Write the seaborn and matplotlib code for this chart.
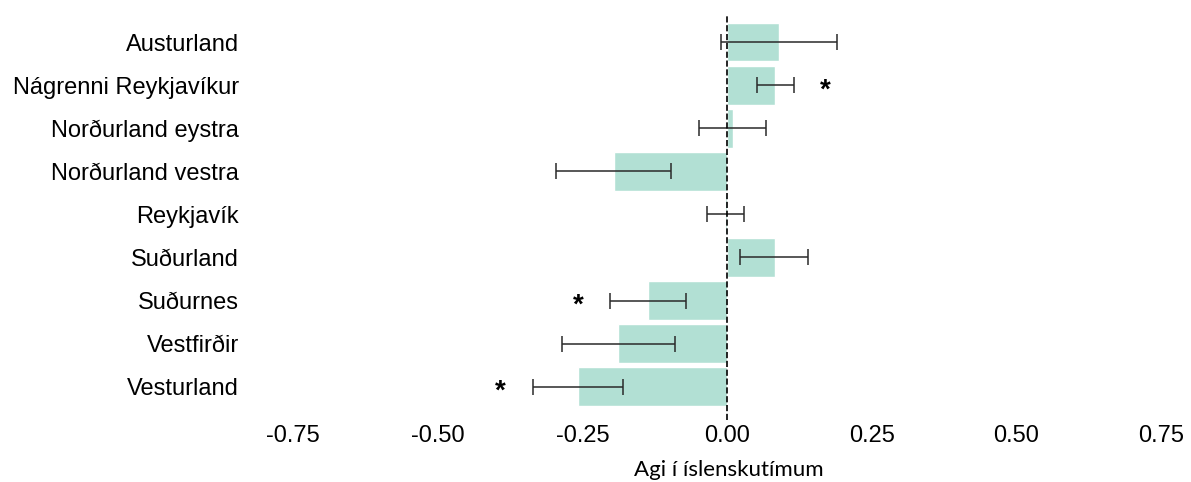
import matplotlib
matplotlib.use("Agg")
import matplotlib.pyplot as plt
import pandas as pd
import seaborn as sns

# ── data ─────────────────────────────────────────────
regions = ["Austurland", "Nágrenni Reykjavíkur", "Norðurland eystra",
           "Norðurland vestra", "Reykjavík", "Suðurland", "Suðurnes",
           "Vestfirðir", "Vesturland"]
effect = [0.090, 0.083, 0.010, -0.196, -0.003, 0.082, -0.137, -0.188, -0.257]
ci_low = [-0.011, 0.051, -0.048, -0.295, -0.035, 0.022, -0.202, -0.285, -0.336]
ci_high = [0.190, 0.115, 0.068, -0.097, 0.029, 0.140, -0.071, -0.090, -0.180]
signif = [False, True, False, False, False, False, True, False, True]
xticks = [-0.75, -0.50, -0.25, 0.00, 0.25, 0.50, 0.75]

df = pd.DataFrame({"region": regions, "effect": effect,
                   "low": ci_low, "high": ci_high, "sig": signif})

sns.set_style("white")
plt.rcParams["font.family"] = ["Liberation Sans", "DejaVu Sans"]
plt.rcParams["text.color"] = "black"
plt.rcParams["xtick.labelcolor"] = "black"
plt.rcParams["ytick.labelcolor"] = "black"

fig = plt.figure(figsize=(11.91, 4.82), dpi=100)
ax = fig.add_axes([0.21, 0.129, 0.78, 0.84])

sns.barplot(data=df, y="region", x="effect", orient="h", color="#b2e0d4",
            saturation=1, width=0.9, errorbar=None, ax=ax)

ypos = range(len(df))
mid = (df["low"] + df["high"]) / 2
half = (df["high"] - df["low"]) / 2
ax.errorbar(mid, ypos, xerr=half, fmt="none", ecolor="#2a2a2a",
            elinewidth=1.1, capsize=6, capthick=1.1)

ax.axvline(0, color="black", ls="--", lw=1.2)

# significance stars just past the far end of the interval
for i, r in df.iterrows():
    if r["sig"]:
        sx = r["high"] + 0.055 if r["effect"] > 0 else r["low"] - 0.055
        ax.text(sx, i + 0.12, "*", ha="center", va="center",
                fontsize=20, fontweight="bold", color="black")

ax.set_xlim(-0.824, 0.781)
ax.set_ylim(8.77, -0.63)
ax.set_xticks(xticks)
ax.set_xticklabels([f"{t:.2f}" for t in xticks], fontsize=17)
ax.tick_params(axis="x", length=4, color="#999999", pad=0)
ax.tick_params(axis="y", length=0, labelsize=17, pad=8)
ax.set_ylabel("")
ax.set_xlabel("Agi í íslenskutímum", fontsize=16, family=["Lato", "DejaVu Sans"],
              color="black")
ax.xaxis.set_label_coords(0.515, -0.10)
sns.despine(ax=ax, left=True, bottom=True)

fig.savefig("out.png", dpi=100)
